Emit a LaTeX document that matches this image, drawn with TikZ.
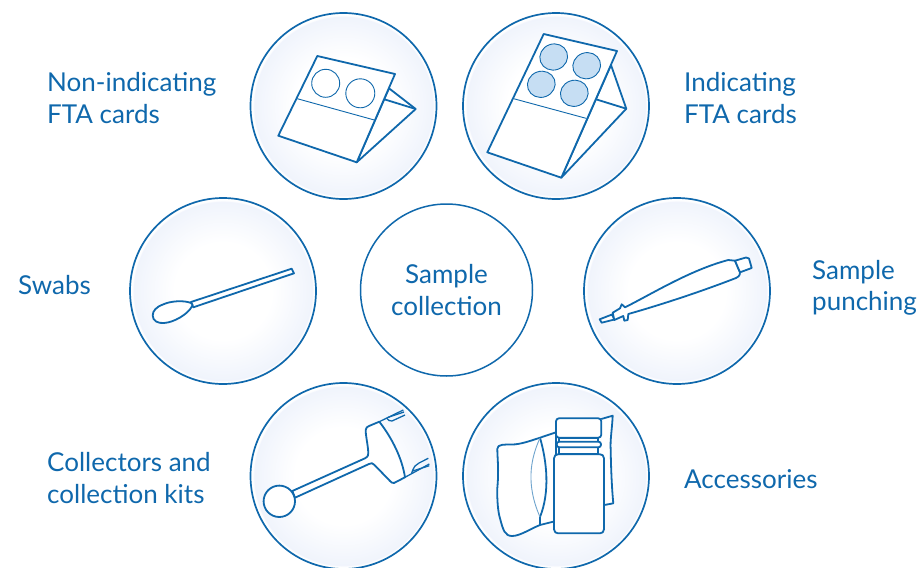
\documentclass[tikz,border=0pt]{standalone}
\usepackage{fontspec}
\setmainfont{Lato}
\definecolor{qblue}{HTML}{0F68AC}
\definecolor{qtint}{HTML}{F0F4FC}
\definecolor{qspot}{HTML}{C6DEF3}
\pgfdeclareradialshading{discshade}{\pgfpoint{0bp}{0bp}}{color(0bp)=(white); color(13bp)=(white); color(24bp)=(qtint); color(24.4bp)=(white); color(50bp)=(white)}
\tikzset{
  disc/.style={circle, draw=qblue, line width=1.7pt, minimum size=186pt, inner sep=0pt, shade, shading=discshade},
  hub/.style={circle, draw=qblue, line width=1.5pt, fill=white, minimum size=172pt, inner sep=0pt},
  caption/.style={text=qblue, font={\fontsize{26}{31.5}\selectfont}, inner sep=0pt},
  icon/.style={draw=qblue, line width=1.8pt, line join=round, fill=white},
  edge/.style={draw=qblue, line width=1.8pt, line join=round},
  prong/.style={draw=qblue, line width=1.3pt, line join=round},
  thin edge/.style={draw=qblue, line width=0.9pt}
}
\begin{document}
\begin{tikzpicture}[x=1pt, y=-1pt]
  \useasboundingbox (0,0) rectangle (922,568);
  % outer discs
  \foreach \name/\cx/\cy in {plain/343.5/106, spots/556/106, swab/223/291, punch/677/291, collector/343.5/476, extras/556/476} {
    \node[disc] (\name) at (\cx,\cy) {};
  }
  \node[hub, caption, align=center] (hub) at (446.5,290) {Sample\\collection};
  % captions
  \node[caption, anchor=west, align=left] (plaintext) at (47,98) {Non-indicating\\FTA cards};
  \node[caption, anchor=west, align=left] (spotstext) at (684,98) {Indicating\\FTA cards};
  \node[caption, anchor=west] (swabtext) at (18,285.5) {Swabs};
  \node[caption, anchor=west, align=left] (punchtext) at (812,288) {Sample\\punching};
  \node[caption, anchor=west, align=left] (collectortext) at (47,478) {Collectors and\\collection kits};
  \node[caption, anchor=west] (extrastext) at (684,479.5) {Accessories};
  % non-indicating card
  \draw[icon] (356.7,162.3) -- (415.7,109) -- (389,88.3) -- cycle;
  \draw[edge] (415.7,109) -- (384.3,99.3);
  \draw[icon] (317.3,56) -- (395,74) -- (356.7,162.3) -- (278.3,135.7) -- cycle;
  \draw[thin edge] (297.3,98.7) -- (374.3,120);
  \foreach \cx/\cy/\r in {325.7/83.3/14, 360.3/93.3/14.5} {
    \draw[thin edge] (\cx,\cy) circle (\r pt);
  }
  % indicating card
  \draw[icon] (561.3,177.7) -- (626.3,108.7) -- (611,65) -- cycle;
  \draw[edge] (626.3,108.7) -- (596,99.3);
  \draw[icon] (543.7,34) -- (617,51) -- (561.3,177.7) -- (487.3,152.3) -- cycle;
  \draw[thin edge] (513.7,98.7) -- (586,118.3);
  \foreach \cx/\cy in {553.7/57, 586.7/65.7, 541.3/84.3, 574.3/93.3} {
    \draw[thin edge, fill=qspot] (\cx,\cy) ellipse [x radius=14pt, y radius=13pt, rotate=20];
  }
  % swab
  \draw[icon] (191,302) -- (291.7,268.7) -- (294,273.3) -- (193.3,307.3) -- cycle;
  \draw[icon] (191,303) .. controls (184,300) and (170,301) .. (163,304.5) .. controls (156,307) and (152.7,311) .. (152.7,315.5)
    .. controls (152.7,321) and (158,323.5) .. (164,323) .. controls (174,322.5) and (188,314) .. (191.7,306.7)
    .. controls (193,305) and (193,305) .. (191,303) -- cycle;
  % punch
  \draw[icon] (599.7,319.3) -- (612,314.5) -- (614.5,319.5) -- (601.7,322.7) -- cycle;
  \draw[icon] (612.7,312.7) -- (620,308.3) -- (621.7,304.3) -- (625,307.3)
    .. controls (650,295) and (690,270) .. (728.3,260) -- (735,260.7) -- (740,272.3)
    .. controls (740,276) and (738,277) .. (736,278)
    .. controls (700,292) and (660,305) .. (628.3,314) -- (627.7,320) -- (624.3,320.7) -- (623.3,316) -- (614.3,320) -- cycle;
  \draw[icon] (735,260.7) -- (746,257.5) -- (749,258.5) -- (751.7,268) -- (740,272.3) -- cycle;
  % collector
  \draw[icon] (292.3,491) -- (365,458.3) .. controls (368,456.5) and (368.5,455) .. (368.3,453)
    .. controls (368,445) and (365.5,435) .. (365.7,430) .. controls (366,427.5) and (367,427) .. (369,426)
    -- (379.3,421.7) .. controls (392,438) and (402,458) .. (405,477.3) -- (394,483)
    .. controls (392.5,483.5) and (391,482) .. (390,481) -- (375,465.5) .. controls (372,463) and (371.5,462.5) .. (369,464)
    -- (295,497.7) -- cycle;
  \draw[icon] (279.3,501.3) circle (15.7pt);
  \draw[prong] (379.3,421.7) -- (403.3,410);
  \draw[prong] (388.3,417.3) -- (404,412);
  \draw[prong] (386.7,418.3) .. controls (388,420) and (390,421.5) .. (392,421) -- (405,415);
  \draw[prong] (405,477.3) -- (429.3,464);
  \draw[prong] (412.7,471) -- (429.3,465.7);
  \draw[prong] (411.7,473) .. controls (414,466) and (416,464.5) .. (419,463) -- (428.3,458.3);
  % bag behind the bottle
  \draw[icon] (601.3,419) -- (612.7,415.7) .. controls (612,430) and (610,440) .. (610.7,450) .. controls (611,470) and (612,490) .. (613.3,503.3) -- (604.3,505);
  \draw[icon] (556,432.3) -- (540,437.7) .. controls (530,441) and (520,444.5) .. (512,444.5)
    .. controls (505,444.5) and (497,444) .. (497.3,449) .. controls (497.5,460) and (499,470) .. (497.3,488.3)
    .. controls (497,500) and (498,512) .. (500,518.3) .. controls (503,530) and (505,536) .. (512,536)
    .. controls (520,536) and (530,529) .. (540,525) -- (556,521) -- cycle;
  \draw[edge] (540,437.7) .. controls (547,462) and (550,492) .. (540,517) -- (540,525);
  \draw[thin edge, qblue!60] (540,438) .. controls (530,460) and (526,485) .. (540,517);
  % bottle
  \draw[icon] (554,458.3) .. controls (554,455.5) and (556,454.3) .. (558,454.3) -- (600,454.3)
    .. controls (602,454.3) and (604,455.5) .. (604,458.3) -- (604,529.3) .. controls (604,532) and (602,533.3) .. (600,533.3)
    -- (558,533.3) .. controls (556,533.3) and (554,532) .. (554,529.3) -- cycle;
  \draw[icon] (559.3,447) rectangle (598.3,454.3);
  \draw[icon] (559.3,437.7) rectangle (598.3,441.7);
  \draw[icon, rounded corners=2.5pt] (556.7,441.7) rectangle (601,447.3);
  \draw[icon, rounded corners=3pt] (556,418.3) rectangle (601.3,437.7);
\end{tikzpicture}
\end{document}
